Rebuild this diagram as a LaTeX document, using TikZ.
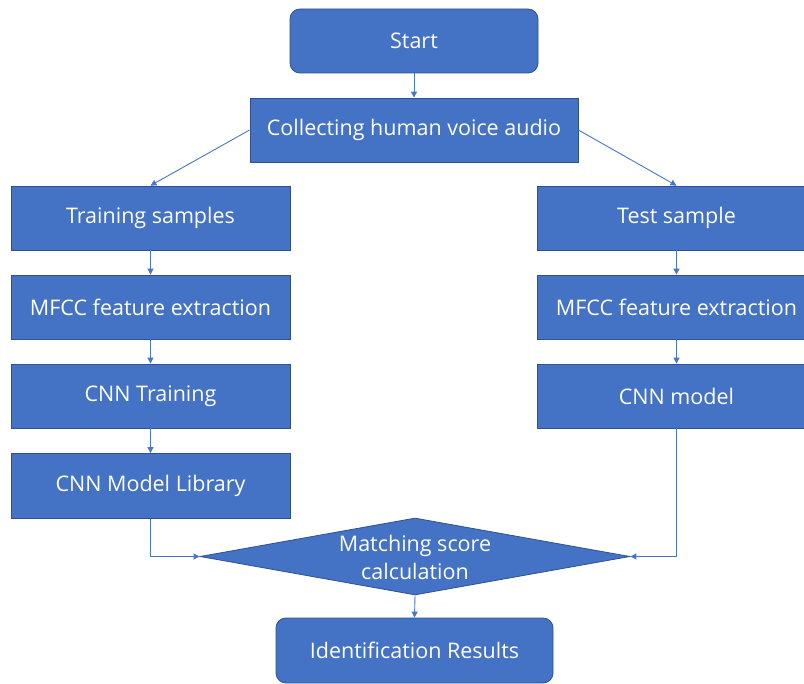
\documentclass[tikz,border=0pt]{standalone}
\usepackage{fontspec}
\setmainfont{Open Sans}
\usetikzlibrary{arrows.meta,shapes.geometric}
\definecolor{boxfill}{HTML}{4472C4}
\definecolor{boxline}{HTML}{2F528F}
\definecolor{edgecol}{HTML}{4A76C6}
\begin{document}
\begin{tikzpicture}[x=1pt,y=-1pt,
  box/.style={draw=boxline,line width=0.8pt,fill=boxfill,text=white,inner sep=0pt,
    minimum width=279pt,minimum height=64pt,font=\fontsize{21.5}{28}\selectfont},
  rbox/.style={box,rounded corners=10pt},
  diam/.style={diamond,draw=boxline,line width=0.8pt,fill=boxfill,inner sep=0pt,
    minimum width=430pt,minimum height=77pt},
  lbl/.style={text=white,align=center,font=\fontsize{21.5}{28}\selectfont},
  conn/.style={draw=edgecol,line width=0.9pt,-{Triangle[length=6pt,width=6pt]}}]
\useasboundingbox (0,0) rectangle (804,684);
\node[rbox,minimum width=248pt] (start) at (414,41) {Start};
\node[box,minimum width=328pt] (collect) at (414,130) {Collecting human voice audio};
\node[box] (train) at (150.5,218) {Training samples};
\node[box] (test) at (676.5,218) {Test sample};
\node[box] (mfccL) at (150.5,307) {MFCC feature extraction};
\node[box] (mfccR) at (676.5,307) {MFCC feature extraction};
\node[box] (cnnT) at (150.5,396) {CNN Training};
\node[box] (cnnM) at (676.5,396) {CNN model};
\node[box,minimum height=65pt] (lib) at (150.5,486) {CNN Model Library};
\node[diam] (match) at (415,556.5) {};
\node[lbl] (matchtxt) at (415,557) {Matching score\\calculation};
\node[rbox,minimum width=277pt,minimum height=65pt] (res) at (414.5,650.5) {Identification Results};
\draw[conn] (start.south) -- (collect.north);
\draw[conn] (collect.west) -- (train.north);
\draw[conn] (collect.east) -- (test.north);
\draw[conn] (train.south) -- (mfccL.north);
\draw[conn] (mfccL.south) -- (cnnT.north);
\draw[conn] (cnnT.south) -- (lib.north);
\draw[conn] (test.south) -- (mfccR.north);
\draw[conn] (mfccR.south) -- (cnnM.north);
\draw[conn] (lib.south) |- (match.west);
\draw[conn] (cnnM.south) |- (match.east);
\draw[conn] (match.south) -- (res.north);
\end{tikzpicture}
\end{document}
